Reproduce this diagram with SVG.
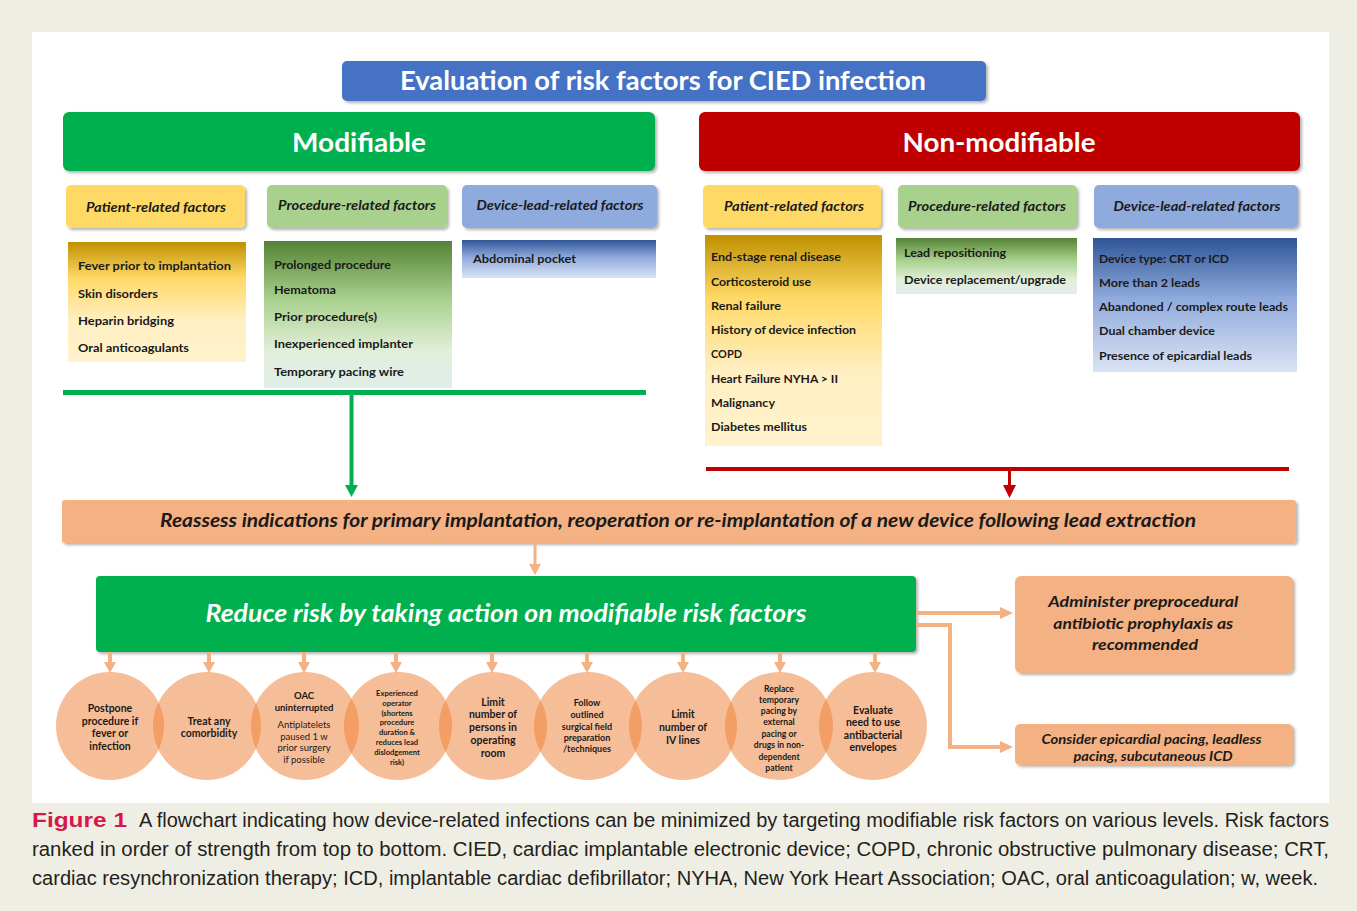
<svg xmlns="http://www.w3.org/2000/svg" width="1357" height="911" viewBox="0 0 1357 911">
<defs>
<style>
text{font-family:Lato,"Open Sans","Liberation Sans",sans-serif;fill:#1a1a1a}
.hdr{font-weight:bold;fill:#fff}
.sub{font-weight:bold;font-style:italic;font-size:13px;text-anchor:middle}
.item{font-weight:bold;font-size:12px}
.circ{fill:#ED7D31;fill-opacity:0.5}
.ct{font-weight:bold;text-anchor:middle}
.cap{font-family:"Liberation Sans",Lato,sans-serif;font-size:20px;fill:#231F20}
.org{fill:none;stroke:#F4B183;stroke-width:4}
</style>
<filter id="sh" x="-5%" y="-20%" width="110%" height="150%">
<feDropShadow dx="2" dy="2" stdDeviation="1.5" flood-color="#000" flood-opacity="0.3"/>
</filter>
<linearGradient id="gY" x1="0" y1="0" x2="0" y2="1">
<stop offset="0" stop-color="#BF9000"/><stop offset="0.3" stop-color="#FFD966"/><stop offset="0.65" stop-color="#FFEFC2"/><stop offset="1" stop-color="#FFF2CC"/>
</linearGradient>
<linearGradient id="gG" x1="0" y1="0" x2="0" y2="1">
<stop offset="0" stop-color="#548235"/><stop offset="0.4" stop-color="#A9D18E"/><stop offset="0.75" stop-color="#E2EFDA"/><stop offset="1" stop-color="#E0EEEA"/>
</linearGradient>
<linearGradient id="gB" x1="0" y1="0" x2="0" y2="1">
<stop offset="0" stop-color="#2F5597"/><stop offset="0.45" stop-color="#8FAADC"/><stop offset="1" stop-color="#DAE3F3"/>
</linearGradient>
</defs>

<rect x="0" y="0" width="1357" height="911" fill="#EFEEE4"/>
<rect x="32" y="32" width="1297" height="771" fill="#FFFFFF"/>

<g id="title">
<rect x="342" y="61" width="644" height="40" rx="5" fill="#4472C4" filter="url(#sh)"/>
<text x="663" y="90" class="hdr" font-size="26" text-anchor="middle" textLength="526" lengthAdjust="spacingAndGlyphs">Evaluation of risk factors for CIED infection</text>
</g>

<g id="modifiable">
<rect x="63" y="112" width="592" height="59" rx="6" fill="#00B050" filter="url(#sh)"/>
<text x="359" y="152" class="hdr" font-size="27" text-anchor="middle" textLength="134" lengthAdjust="spacingAndGlyphs">Modifiable</text>
</g>
<g id="nonmodifiable">
<rect x="699" y="112" width="601" height="59" rx="6" fill="#C00000" filter="url(#sh)"/>
<text x="999" y="152" class="hdr" font-size="27" text-anchor="middle" textLength="193" lengthAdjust="spacingAndGlyphs">Non-modifiable</text>
</g>

<g id="mod-patient-hdr">
<rect x="66" y="185" width="179" height="43" rx="5" fill="#FFD966" filter="url(#sh)"/>
<text x="156" y="212" class="sub" textLength="140" lengthAdjust="spacingAndGlyphs">Patient-related factors</text>
</g>
<g id="mod-procedure-hdr">
<rect x="267" y="185" width="180" height="43" rx="5" fill="#A9D18E" filter="url(#sh)"/>
<text x="357" y="210" class="sub" textLength="158" lengthAdjust="spacingAndGlyphs">Procedure-related factors</text>
</g>
<g id="mod-device-hdr">
<rect x="462" y="185" width="195" height="43" rx="5" fill="#8FAADC" filter="url(#sh)"/>
<text x="560" y="210" class="sub" textLength="167" lengthAdjust="spacingAndGlyphs">Device-lead-related factors</text>
</g>

<g id="mod-patient-list">
<rect x="68" y="242" width="178" height="120" fill="url(#gY)"/>
<text x="78" y="270" class="item" textLength="153" lengthAdjust="spacingAndGlyphs">Fever prior to implantation</text>
<text x="78" y="298" class="item" textLength="80" lengthAdjust="spacingAndGlyphs">Skin disorders</text>
<text x="78" y="325" class="item" textLength="96" lengthAdjust="spacingAndGlyphs">Heparin bridging</text>
<text x="78" y="352" class="item" textLength="111" lengthAdjust="spacingAndGlyphs">Oral anticoagulants</text>
</g>
<g id="mod-procedure-list">
<rect x="264" y="241" width="188" height="147" fill="url(#gG)"/>
<text x="274" y="269" class="item" textLength="117" lengthAdjust="spacingAndGlyphs">Prolonged procedure</text>
<text x="274" y="294" class="item" textLength="62" lengthAdjust="spacingAndGlyphs">Hematoma</text>
<text x="274" y="321" class="item" textLength="103" lengthAdjust="spacingAndGlyphs">Prior procedure(s)</text>
<text x="274" y="348" class="item" textLength="139" lengthAdjust="spacingAndGlyphs">Inexperienced implanter</text>
<text x="274" y="376" class="item" textLength="130" lengthAdjust="spacingAndGlyphs">Temporary pacing wire</text>
</g>
<g id="mod-device-list">
<rect x="462" y="240" width="194" height="38" fill="url(#gB)"/>
<text x="473" y="263" class="item" textLength="103" lengthAdjust="spacingAndGlyphs">Abdominal pocket</text>
</g>

<g id="non-patient-hdr">
<rect x="703" y="185" width="178" height="43" rx="5" fill="#FFD966" filter="url(#sh)"/>
<text x="794" y="211" class="sub" textLength="140" lengthAdjust="spacingAndGlyphs">Patient-related factors</text>
</g>
<g id="non-procedure-hdr">
<rect x="898" y="185" width="179" height="43" rx="5" fill="#A9D18E" filter="url(#sh)"/>
<text x="987" y="211" class="sub" textLength="158" lengthAdjust="spacingAndGlyphs">Procedure-related factors</text>
</g>
<g id="non-device-hdr">
<rect x="1094" y="185" width="204" height="43" rx="5" fill="#8FAADC" filter="url(#sh)"/>
<text x="1197" y="211" class="sub" textLength="167" lengthAdjust="spacingAndGlyphs">Device-lead-related factors</text>
</g>

<g id="non-patient-list">
<rect x="705" y="235" width="177" height="211" fill="url(#gY)"/>
<text x="711" y="261" class="item" textLength="130" lengthAdjust="spacingAndGlyphs">End-stage renal disease</text>
<text x="711" y="286" class="item" textLength="100" lengthAdjust="spacingAndGlyphs">Corticosteroid use</text>
<text x="711" y="310" class="item" textLength="70" lengthAdjust="spacingAndGlyphs">Renal failure</text>
<text x="711" y="334" class="item" textLength="145" lengthAdjust="spacingAndGlyphs">History of device infection</text>
<text x="711" y="358" class="item" textLength="31" lengthAdjust="spacingAndGlyphs">COPD</text>
<text x="711" y="383" class="item" textLength="127" lengthAdjust="spacingAndGlyphs">Heart Failure NYHA &gt; II</text>
<text x="711" y="407" class="item" textLength="64" lengthAdjust="spacingAndGlyphs">Malignancy</text>
<text x="711" y="431" class="item" textLength="96" lengthAdjust="spacingAndGlyphs">Diabetes mellitus</text>
</g>
<g id="non-procedure-list">
<rect x="896" y="238" width="181" height="56" fill="url(#gG)"/>
<text x="904" y="257" class="item" textLength="102" lengthAdjust="spacingAndGlyphs">Lead repositioning</text>
<text x="904" y="284" class="item" textLength="162" lengthAdjust="spacingAndGlyphs">Device replacement/upgrade</text>
</g>
<g id="non-device-list">
<rect x="1093" y="238" width="204" height="134" fill="url(#gB)"/>
<text x="1099" y="263" class="item" textLength="130" lengthAdjust="spacingAndGlyphs">Device type: CRT or ICD</text>
<text x="1099" y="287" class="item" textLength="101" lengthAdjust="spacingAndGlyphs">More than 2 leads</text>
<text x="1099" y="311" class="item" textLength="189" lengthAdjust="spacingAndGlyphs">Abandoned / complex route leads</text>
<text x="1099" y="335" class="item" textLength="116" lengthAdjust="spacingAndGlyphs">Dual chamber device</text>
<text x="1099" y="360" class="item" textLength="153" lengthAdjust="spacingAndGlyphs">Presence of epicardial leads</text>
</g>

<g id="reassess">
<rect x="62" y="500" width="1234" height="43" rx="3" fill="#F4B183" filter="url(#sh)"/>
<text x="678" y="527" font-size="18" font-weight="bold" font-style="italic" text-anchor="middle" textLength="1036" lengthAdjust="spacingAndGlyphs">Reassess indications for primary implantation, reoperation or re-implantation of a new device following lead extraction</text>
</g>

<g id="reduce">
<rect x="96" y="576" width="820" height="76" rx="4" fill="#00B050" filter="url(#sh)"/>
<text x="506" y="622" class="hdr" font-size="24" font-style="italic" text-anchor="middle" textLength="601" lengthAdjust="spacingAndGlyphs">Reduce risk by taking action on modifiable risk factors</text>
</g>

<g id="administer">
<rect x="1015" y="576" width="278" height="97" rx="6" fill="#F4B183" filter="url(#sh)"/>
<text font-size="16" font-weight="bold" font-style="italic" text-anchor="middle">
<tspan x="1145" y="607" textLength="190" lengthAdjust="spacingAndGlyphs">Administer preprocedural</tspan>
<tspan x="1145" y="629" textLength="180" lengthAdjust="spacingAndGlyphs">antibiotic prophylaxis as</tspan>
<tspan x="1145" y="650" textLength="106" lengthAdjust="spacingAndGlyphs">recommended</tspan>
</text>
</g>
<g id="consider">
<rect x="1015" y="724" width="278" height="41" rx="5" fill="#F4B183" filter="url(#sh)"/>
<text font-size="13" font-weight="bold" font-style="italic" text-anchor="middle">
<tspan x="1153" y="744" textLength="220" lengthAdjust="spacingAndGlyphs">Consider epicardial pacing, leadless</tspan>
<tspan x="1153" y="761" textLength="159" lengthAdjust="spacingAndGlyphs">pacing, subcutaneous ICD</tspan>
</text>
</g>

<g id="connectors">
<line x1="63" y1="392.5" x2="646" y2="392.5" stroke="#00B050" stroke-width="5"/>
<line x1="351.5" y1="392" x2="351.5" y2="486" stroke="#00B050" stroke-width="4"/>
<polygon points="345,485 358,485 351.5,497" fill="#00B050"/>
<line x1="706" y1="469" x2="1289" y2="469" stroke="#C00000" stroke-width="4"/>
<line x1="1009.5" y1="469" x2="1009.5" y2="486" stroke="#C00000" stroke-width="3"/>
<polygon points="1003,485 1016,485 1009.5,498" fill="#C00000"/>
<line x1="535" y1="543" x2="535" y2="565" stroke="#F4B183" stroke-width="3"/>
<polygon points="529,564 541,564 535,575" fill="#F4B183"/>
<polyline class="org" points="916,613 1001,613"/>
<polygon points="1000,607 1013,613 1000,619" fill="#F4B183"/>
<polyline class="org" points="916,625 950,625 950,747 1001,747"/>
<polygon points="1000,741 1013,747 1000,753" fill="#F4B183"/>
<g fill="#F4B183">
<rect x="108" y="652" width="4" height="11"/><polygon points="104,662 116,662 110,673"/>
<rect x="207" y="652" width="4" height="11"/><polygon points="203,662 215,662 209,673"/>
<rect x="302" y="652" width="4" height="11"/><polygon points="298,662 310,662 304,673"/>
<rect x="394" y="652" width="4" height="11"/><polygon points="390,662 402,662 396,673"/>
<rect x="490" y="652" width="4" height="11"/><polygon points="486,662 498,662 492,673"/>
<rect x="585" y="652" width="4" height="11"/><polygon points="581,662 593,662 587,673"/>
<rect x="681" y="652" width="4" height="11"/><polygon points="677,662 689,662 683,673"/>
<rect x="778" y="652" width="4" height="11"/><polygon points="774,662 786,662 780,673"/>
<rect x="873" y="652" width="4" height="11"/><polygon points="869,662 881,662 875,673"/>
</g>
</g>

<g id="circles">
<circle class="circ" cx="110" cy="726" r="54"/>
<circle class="circ" cx="207" cy="726" r="54"/>
<circle class="circ" cx="305" cy="726" r="54"/>
<circle class="circ" cx="398" cy="726" r="54"/>
<circle class="circ" cx="493" cy="726" r="54"/>
<circle class="circ" cx="588" cy="726" r="54"/>
<circle class="circ" cx="683" cy="726" r="54"/>
<circle class="circ" cx="779" cy="726" r="54"/>
<circle class="circ" cx="873" cy="726" r="54"/>
</g>

<g id="c1"><text class="ct" font-size="10.5"><tspan x="110" y="712">Postpone</tspan><tspan x="110" y="725">procedure if</tspan><tspan x="110" y="737">fever or</tspan><tspan x="110" y="750">infection</tspan></text></g>
<g id="c2"><text class="ct" font-size="10.5"><tspan x="209" y="725">Treat any</tspan><tspan x="209" y="737">comorbidity</tspan></text></g>
<g id="c3"><text class="ct" font-size="9.5"><tspan x="304" y="699">OAC</tspan><tspan x="304" y="711">uninterrupted</tspan></text>
<text font-size="9.5" text-anchor="middle" fill="#333"><tspan x="304" y="728">Antiplatelets</tspan><tspan x="304" y="740">paused 1 w</tspan><tspan x="304" y="751">prior surgery</tspan><tspan x="304" y="763">if possible</tspan></text></g>
<g id="c4"><text class="ct" font-size="7.6"><tspan x="397" y="696">Experienced</tspan><tspan x="397" y="706">operator</tspan><tspan x="397" y="716">(shortens</tspan><tspan x="397" y="725">procedure</tspan><tspan x="397" y="735">duration &amp;</tspan><tspan x="397" y="745">reduces lead</tspan><tspan x="397" y="755">dislodgement</tspan><tspan x="397" y="765">risk)</tspan></text></g>
<g id="c5"><text class="ct" font-size="10.5"><tspan x="493" y="706">Limit</tspan><tspan x="493" y="718">number  of</tspan><tspan x="493" y="731">persons in</tspan><tspan x="493" y="744">operating</tspan><tspan x="493" y="757">room</tspan></text></g>
<g id="c6"><text class="ct" font-size="9"><tspan x="587" y="706">Follow</tspan><tspan x="587" y="718">outlined</tspan><tspan x="587" y="730">surgical field</tspan><tspan x="587" y="741">preparation</tspan><tspan x="587" y="752">/techniques</tspan></text></g>
<g id="c7"><text class="ct" font-size="10.5"><tspan x="683" y="718">Limit</tspan><tspan x="683" y="731">number of</tspan><tspan x="683" y="744">IV lines</tspan></text></g>
<g id="c8"><text class="ct" font-size="8.6"><tspan x="779" y="692">Replace</tspan><tspan x="779" y="703">temporary</tspan><tspan x="779" y="714">pacing by</tspan><tspan x="779" y="725">external</tspan><tspan x="779" y="737">pacing or</tspan><tspan x="779" y="748">drugs in non-</tspan><tspan x="779" y="760">dependent</tspan><tspan x="779" y="771">patient</tspan></text></g>
<g id="c9"><text class="ct" font-size="10.5"><tspan x="873" y="714">Evaluate</tspan><tspan x="873" y="726">need to use</tspan><tspan x="873" y="739">antibacterial</tspan><tspan x="873" y="751">envelopes</tspan></text></g>

<g id="caption">
<text x="32" y="827" class="cap" font-weight="bold" fill="#D6174B" style="fill:#D6174B" textLength="95" lengthAdjust="spacingAndGlyphs">Figure 1</text>
<text x="139" y="827" class="cap" textLength="1190" lengthAdjust="spacingAndGlyphs">A flowchart indicating how device-related infections can be minimized by targeting modifiable risk factors on various levels. Risk factors</text>
<text x="32" y="856" class="cap" textLength="1297" lengthAdjust="spacingAndGlyphs">ranked in order of strength from top to bottom. CIED, cardiac implantable electronic device; COPD, chronic obstructive pulmonary disease; CRT,</text>
<text x="32" y="885" class="cap" textLength="1286" lengthAdjust="spacingAndGlyphs">cardiac resynchronization therapy; ICD, implantable cardiac defibrillator; NYHA, New York Heart Association; OAC, oral anticoagulation; w, week.</text>
</g>
</svg>
